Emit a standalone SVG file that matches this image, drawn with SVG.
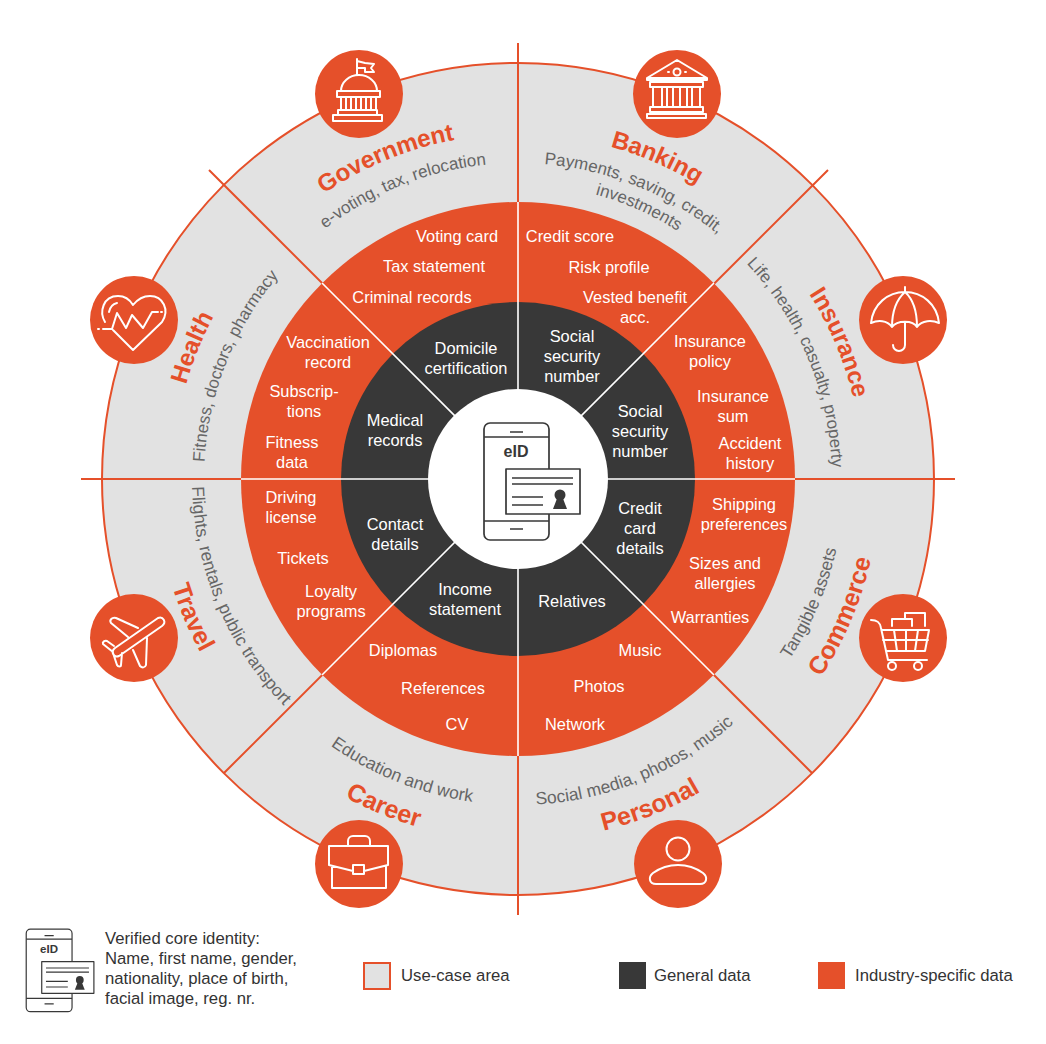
<svg xmlns="http://www.w3.org/2000/svg" width="1046" height="1044" viewBox="0 0 1046 1044">
<style>
text{font-family:"Liberation Sans",Arial,sans-serif}
.w{fill:#fff;font-size:16.4px;text-anchor:middle}
.t{fill:#E5502A;font-size:25px;font-weight:700;text-anchor:middle}
.u{fill:#E5502A;font-size:24.2px;font-weight:700;text-anchor:middle}
.s{fill:#666;font-size:17px;text-anchor:middle}
.b{fill:#666;font-size:17.5px;text-anchor:middle}
.l{fill:#333;font-size:16.7px}
.or{stroke:#E5502A;stroke-width:2;fill:none}
.wl{stroke:#fff;stroke-width:1.6;fill:none}
.i{fill:none;stroke:#fff;stroke-width:2;stroke-linejoin:round;stroke-linecap:round}
.c{fill:#E5502A}
.d{fill:none;stroke:#383838;stroke-width:1.7;stroke-linejoin:round}
</style>
<defs>
<path id="c345" d="M173 479A345 345 0 0 1 863 479"/>
<path id="c316" d="M202 479A316 316 0 0 1 834 479"/>
<path id="c314" d="M204 479A314 314 0 0 1 832 479"/>
<path id="c295" d="M223 479A295 295 0 0 1 813 479"/>
<path id="a362" d="M156 479A362 362 0 0 0 880 479"/>
<path id="a326" d="M192 479A326 326 0 0 0 844 479"/>
<g id="eid">
<rect x="484" y="423" width="65" height="117" rx="6" fill="#fff"/>
<path d="M484 437H549M484 521H549M510 432H523M510 529H523"/>
<rect x="506" y="469" width="74" height="45" fill="#fff"/>
<path d="M512 478H573M512 484H573M512 497H543M512 505H543"/>
<circle cx="560" cy="495" r="5.5" fill="#383838" stroke="none"/>
<path d="M553 509L558 496H562L567 509Z" fill="#383838" stroke="none"/>
</g>
</defs>
<g id="ring">
<circle cx="518" cy="479" r="416" fill="#E2E2E2" stroke="#E5502A" stroke-width="2"/>
</g>
<g id="connectors-outer">
<path class="or" d="M518 43V915M81 479H955M209 170L518 479M828 170L224 773M518 479L812 773"/>
</g>
<g id="core">
<circle cx="518" cy="479" r="277" class="c"/>
<circle cx="518" cy="479" r="177" fill="#383838"/>
</g>
<g id="connectors-inner">
<path class="wl" d="M518 202V756M241 479H795M322 283L714 675M714 283L322 675"/>
</g>
<g id="center">
<circle cx="518" cy="479" r="90" fill="#fff"/>
<use href="#eid" class="d"/>
<text x="516" y="457" font-size="16" font-weight="700" fill="#383838" text-anchor="middle">eID</text>
</g>
<g id="data-labels" transform="translate(0 .7)">
<text class="w" x="457" y="241">Voting card</text>
<text class="w" x="434" y="271">Tax statement</text>
<text class="w" x="412" y="302">Criminal records</text>
<text class="w" x="570" y="241">Credit score</text>
<text class="w" x="609" y="272">Risk profile</text>
<text class="w" x="635" y="302">Vested benefit</text>
<text class="w" x="635" y="322">acc.</text>
<text class="w" x="710" y="346">Insurance</text>
<text class="w" x="710" y="366">policy</text>
<text class="w" x="733" y="401">Insurance</text>
<text class="w" x="733" y="421">sum</text>
<text class="w" x="750" y="448">Accident</text>
<text class="w" x="750" y="468">history</text>
<text class="w" x="744" y="509">Shipping</text>
<text class="w" x="744" y="529">preferences</text>
<text class="w" x="725" y="568">Sizes and</text>
<text class="w" x="725" y="588">allergies</text>
<text class="w" x="710" y="622">Warranties</text>
<text class="w" x="640" y="655">Music</text>
<text class="w" x="599" y="691">Photos</text>
<text class="w" x="575" y="729">Network</text>
<text class="w" x="457" y="729">CV</text>
<text class="w" x="443" y="693">References</text>
<text class="w" x="403" y="655">Diplomas</text>
<text class="w" x="331" y="596">Loyalty</text>
<text class="w" x="331" y="616">programs</text>
<text class="w" x="303" y="563">Tickets</text>
<text class="w" x="291" y="502">Driving</text>
<text class="w" x="291" y="522">license</text>
<text class="w" x="292" y="447">Fitness</text>
<text class="w" x="292" y="467">data</text>
<text class="w" x="304" y="396">Subscrip-</text>
<text class="w" x="304" y="416">tions</text>
<text class="w" x="328" y="347">Vaccination</text>
<text class="w" x="328" y="367">record</text>
<text class="w" x="466" y="353">Domicile</text>
<text class="w" x="466" y="373">certification</text>
<text class="w" x="395" y="425">Medical</text>
<text class="w" x="395" y="445">records</text>
<text class="w" x="395" y="529">Contact</text>
<text class="w" x="395" y="549">details</text>
<text class="w" x="465" y="594">Income</text>
<text class="w" x="465" y="614">statement</text>
<text class="w" x="572" y="606">Relatives</text>
<text class="w" x="640" y="513">Credit</text>
<text class="w" x="640" y="533">card</text>
<text class="w" x="640" y="553">details</text>
<text class="w" x="640" y="416">Social</text>
<text class="w" x="640" y="436">security</text>
<text class="w" x="640" y="456">number</text>
<text class="w" x="572" y="341">Social</text>
<text class="w" x="572" y="361">security</text>
<text class="w" x="572" y="381">number</text>
</g>
<g id="area-labels">
<g transform="rotate(-22.4 518 479)"><text class="u"><textPath href="#c345" startOffset="50%">Government</textPath></text></g>
<g transform="rotate(-21.7 518 479)"><text class="s"><textPath href="#c316" startOffset="50%">e-voting, tax, relocation</textPath></text></g>
<g transform="rotate(23.4 518 479)"><text class="u"><textPath href="#c345" startOffset="50%">Banking</textPath></text></g>
<g transform="rotate(22 518 479)"><text class="s"><textPath href="#c316" startOffset="50%">Payments, saving, credit,</textPath></text></g>
<g transform="rotate(24 518 479)"><text class="s"><textPath href="#c295" startOffset="50%">investments</textPath></text></g>
<g transform="rotate(67 518 479)"><text class="u"><textPath href="#c345" startOffset="50%">Insurance</textPath></text></g>
<g transform="rotate(67.3 518 479)"><text class="s"><textPath href="#c314" startOffset="50%">Life, health, casualty, property</textPath></text></g>
<g transform="rotate(-68 518 479)"><text class="u"><textPath href="#c345" startOffset="50%">Health</textPath></text></g>
<g transform="rotate(-68.3 518 479)"><text class="s"><textPath href="#c314" startOffset="50%">Fitness, doctors, pharmacy</textPath></text></g>
<g transform="rotate(67 518 479)"><text class="t"><textPath href="#a362" startOffset="50%">Travel</textPath></text></g>
<g transform="rotate(67.3 518 479)"><text class="b"><textPath href="#a326" startOffset="50%">Flights, rentals, public transport</textPath></text></g>
<g transform="rotate(22.3 518 479)"><text class="t"><textPath href="#a362" startOffset="50%">Career</textPath></text></g>
<g transform="rotate(21.6 518 479)"><text class="b"><textPath href="#a326" startOffset="50%">Education and work</textPath></text></g>
<g transform="rotate(-22 518 479)"><text class="t"><textPath href="#a362" startOffset="50%">Personal</textPath></text></g>
<g transform="rotate(-22.3 518 479)"><text class="b"><textPath href="#a326" startOffset="50%">Social media, photos, music</textPath></text></g>
<g transform="rotate(-67 518 479)"><text class="t"><textPath href="#a362" startOffset="50%">Commerce</textPath></text></g>
<g transform="rotate(-67 518 479)"><text class="b"><textPath href="#a326" startOffset="50%">Tangible assets</textPath></text></g>
</g>
<g id="icon-government">
<circle cx="359" cy="94" r="44" class="c"/>
<path class="i" d="M333 115H382V121H333ZM338 115V110H377V115M337 91H380V97H337ZM341 91A18 16 0 0 1 377 91M341 97V110M376 97V110M346 97V110M351 97V110M356 97V110M361 97V110M366 97V110M371 97V110M357 75V59M357 61L365 63L374 64L371 68L374 72L365 72V68H357"/>
</g>
<g id="icon-banking">
<circle cx="677" cy="94" r="44" class="c"/>
<path class="i" d="M677 60L647 78H707ZM647 78V80H707V78M650 82H703V87H650ZM653 87V107M662 87V107M667 87V107M673 87V107M680 87V107M687 87V107M692 87V107M700 87V107M650 107H703V112H650ZM647 114H706V118H647ZM668 72H669M685 72H686"/>
<circle class="i" cx="677" cy="72" r="3.5"/>
</g>
<g id="icon-insurance">
<circle cx="903" cy="320" r="44" class="c"/>
<path class="i" d="M905 287V292M871 323C873 304 888 292 905 292C922 292 937 304 939 323C932 320 922 320 917 327C913 320 897 320 892 327C887 320 878 320 871 323ZM905 292C896 300 892 312 892 327M905 292C914 300 917 312 917 327M905 322V345A6 6 0 0 1 893 345"/>
</g>
<g id="icon-commerce">
<circle cx="903" cy="638" r="44" class="c"/>
<path class="i" d="M871 620C877 620 880 622 881 628L888 660H927M882 630H929L925 651H887M883 640H928M894 630L897 651M906 630V651M918 630L915 651M892 626V619H912V626M905 619V613H925V626"/>
<circle class="i" cx="892" cy="666" r="4"/>
<circle class="i" cx="918" cy="666" r="4"/>
</g>
<g id="icon-personal">
<circle cx="678" cy="864" r="44" class="c"/>
<circle class="i" cx="678" cy="849" r="11.5"/>
<path class="i" d="M656 884H700C707 884 708 877 703 873C696 868 688 865 678 865C668 865 660 868 653 873C648 877 649 884 656 884Z"/>
</g>
<g id="icon-career">
<circle cx="359" cy="864" r="44" class="c"/>
<path class="i" d="M329 846H388V865L364 871M353 871L329 865V846M332 866V888H386V866M353 865H364V874H353ZM348 845V841A5 5 0 0 1 353 836H365A5 5 0 0 1 370 841V845"/>
</g>
<g id="icon-travel">
<circle cx="134" cy="638" r="44" class="c"/>
<path class="i" d="M115 648L158 618C163 616 167 622 162 626L119 656C114 658 110 652 115 648ZM128 637L111 623C109 620 112 617 116 618L138 628M133 650L140 666C142 668 145 668 146 665L147 638M113 652L103 644C102 642 105 640 107 641L114 646M113 653L117 665C118 667 121 667 121 665L122 653"/>
</g>
<g id="icon-health">
<circle cx="134" cy="320" r="44" class="c"/>
<path class="i" d="M105 322C99 312 103 296 118 296C125 296 130 300 133 305C137 300 143 296 150 296C163 296 170 310 162 322L133 350L113 330M109 312C110 307 113 304 117 303M103 329H112L117 313L126 328L132 315L143 328L152 312H158M98 329H99M161 312H162"/>
</g>
<g id="legend">
<use href="#eid" class="d" transform="translate(-315 631) scale(.705)"/>
<text x="49" y="953" font-size="11.5" font-weight="700" fill="#383838" text-anchor="middle">eID</text>
<text class="l" x="105" y="943.5">Verified core identity:</text>
<text class="l" x="105" y="963.5">Name, first name, gender,</text>
<text class="l" x="105" y="983.5">nationality, place of birth,</text>
<text class="l" x="105" y="1003.5">facial image, reg. nr.</text>
<rect x="364" y="963" width="26" height="26" fill="#E2E2E2" stroke="#E5502A" stroke-width="2"/>
<text class="l" x="401" y="981">Use-case area</text>
<rect x="619" y="962" width="27" height="27" fill="#383838"/>
<text class="l" x="654" y="981">General data</text>
<rect x="818" y="962" width="27" height="27" class="c"/>
<text class="l" x="855" y="981">Industry-specific data</text>
</g>
</svg>
